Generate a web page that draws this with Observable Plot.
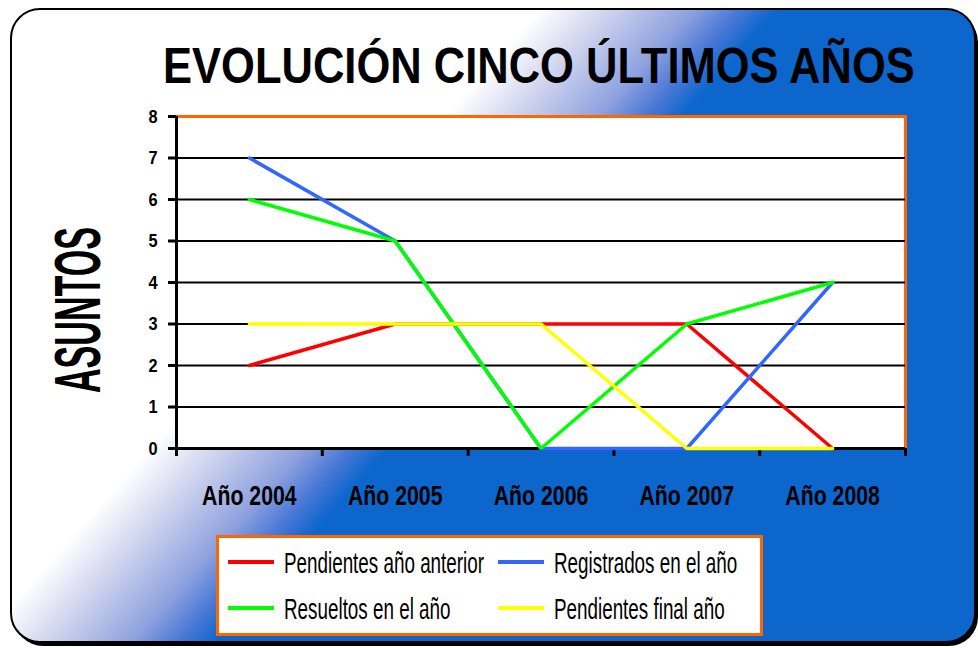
<!DOCTYPE html>
<html><head><meta charset="utf-8">
<script src="https://cdn.jsdelivr.net/npm/d3@7"></script>
<script src="https://cdn.jsdelivr.net/npm/@observablehq/plot@0.6"></script>
<style>
html,body{margin:0;padding:0;background:#fff;}
#root{position:relative;width:978px;height:648px;overflow:hidden;font-family:"Liberation Sans",Arial,sans-serif;}
#bg,#chart,#deco,#legend{position:absolute;left:0;top:0;}
#deco,#legend{pointer-events:none;}
</style></head>
<body>
<div id="root">
  <svg id="bg" width="978" height="648">
    <defs>
      <linearGradient id="cardGrad" gradientUnits="userSpaceOnUse" x1="306.7" y1="272.2" x2="439.8" y2="390.4">
        <stop offset="0" stop-color="#ffffff"/>
        <stop offset="0.27" stop-color="#d3d7ef"/>
        <stop offset="0.64" stop-color="#8fa2df"/>
        <stop offset="0.84" stop-color="#4a78d6"/>
        <stop offset="1" stop-color="#0c66cc"/>
      </linearGradient>
    </defs>
    <rect x="14" y="13" width="964" height="633" rx="29" fill="#000"/>
    <rect x="11" y="9" width="964" height="633" rx="29" fill="url(#cardGrad)" stroke="#000" stroke-width="2"/>
  </svg>
  <div id="chart"></div>
  <svg id="deco" width="978" height="648"></svg>
  <svg id="legend" width="978" height="648"></svg>
</div>
<script>
const years = ["Año 2004", "Año 2005", "Año 2006", "Año 2007", "Año 2008"];
const seriesNames = ["Pendientes año anterior", "Registrados en el año", "Resueltos en el año", "Pendientes final año"];
const pendientesAnterior = [2, 3, 3, 3, 0];
const registrados = [7, 5, 0, 0, 4];
const resueltos = [6, 5, 0, 3, 4];
const pendientesFinal = [3, 3, 3, 0, 0];
const seriesColors = ["#ff0000", "#3366ff", "#00ff00", "#ffff00"];
const yTicks = [0, 1, 2, 3, 4, 5, 6, 7, 8];
const gridTicks = [1, 2, 3, 4, 5, 6, 7];
const titleText = "EVOLUCIÓN CINCO ÚLTIMOS AÑOS";
const yLabel = "ASUNTOS";

const seriesValues = [pendientesAnterior, registrados, resueltos, pendientesFinal];
const rows = [];
seriesValues.forEach((vals, s) => vals.forEach((v, i) => rows.push({i, year: years[i], value: v, series: seriesNames[s]})));
const idx = years.map((_, i) => i);
const bounds = [...idx.map(i => i - 0.5), years.length - 0.5];

const fontFam = '"Liberation Sans",Arial,sans-serif';

// horizontally condense text by a factor, using a transform so bounding boxes stay true
function condense(sel, f) {
  sel.each(function () {
    const t = this.getAttribute("transform") || "";
    this.setAttribute("transform", (t + ` scale(${f},1)`).trim());
  });
}
function fitWidth(node, target) {
  const w = node.getComputedTextLength();
  return w > 0 ? target / w : 1;
}

const plot = Plot.plot({
  width: 978, height: 648,
  marginLeft: 176, marginRight: 73, marginTop: 116, marginBottom: 200,
  style: {background: "transparent", fontFamily: fontFam, color: "#000"},
  x: {type: "linear", domain: [-0.5, years.length - 0.5], axis: null},
  y: {domain: [0, 8], axis: null},
  color: {domain: seriesNames, range: seriesColors},
  marks: [
    Plot.frame({fill: "white", stroke: "#ff6600", strokeWidth: 3}),
    Plot.ruleY(gridTicks, {stroke: "#000", strokeWidth: 2}),
    Plot.ruleY([0], {stroke: "#000", strokeWidth: 3}),
    Plot.ruleX([-0.5], {y1: 0, y2: 8, stroke: "#000", strokeWidth: 3}),
    Plot.axisY({ticks: yTicks, label: null, tickSize: 8, tickPadding: 11, strokeWidth: 3, fontSize: 19, fontWeight: "bold", tickFormat: d => String(d)}),
    Plot.axisX({ticks: bounds, label: null, tickSize: 8, strokeWidth: 3, tickFormat: () => ""}),
    Plot.axisX({ticks: idx, label: null, tickSize: 0, tickPadding: 37, fontSize: 28, fontWeight: "bold", tickFormat: i => years[i]}),
    Plot.line(rows, {x: "i", y: "value", z: "series", stroke: "series", strokeWidth: 3.5, strokeLinejoin: "miter"})
  ]
});
document.getElementById("chart").appendChild(plot);

const ps = d3.select(plot);
condense(ps.selectAll('g[aria-label="x-axis tick label"] text'), 0.76);
condense(ps.selectAll('g[aria-label="y-axis tick label"] text'), 0.86);

const deco = d3.select("#deco");
const tt = deco.append("text")
  .attr("font-family", fontFam).attr("font-size", 50).attr("font-weight", "bold").attr("fill", "#000")
  .text(titleText);
tt.attr("transform", `translate(163,83) scale(${fitWidth(tt.node(), 752)},1)`);
const yl = deco.append("text")
  .attr("font-family", fontFam).attr("font-size", 64).attr("font-weight", "bold").attr("fill", "#000")
  .text(yLabel);
yl.attr("transform", `translate(100,393) rotate(-90) scale(${fitWidth(yl.node(), 166)},1)`);

// legend
const lg = d3.select("#legend");
lg.append("rect").attr("x", 217.5).attr("y", 536.5).attr("width", 544).attr("height", 98)
  .attr("fill", "#fff").attr("stroke", "#ff6600").attr("stroke-width", 3);
const colX = [228, 498];
const rowY = [562, 608];
seriesNames.forEach((name, k) => {
  const cx = colX[k % 2], cy = rowY[Math.floor(k / 2)];
  lg.append("line").attr("x1", cx).attr("x2", cx + 46).attr("y1", cy).attr("y2", cy)
    .attr("stroke", seriesColors[k]).attr("stroke-width", 4);
  lg.append("text").attr("class", "lgt").attr("transform", `translate(${cx + 56},${cy + 10.5})`)
    .attr("font-family", fontFam).attr("font-size", 29).attr("fill", "#000").text(name);
});
condense(lg.selectAll("text.lgt"), 0.65);
</script>
</body></html>
